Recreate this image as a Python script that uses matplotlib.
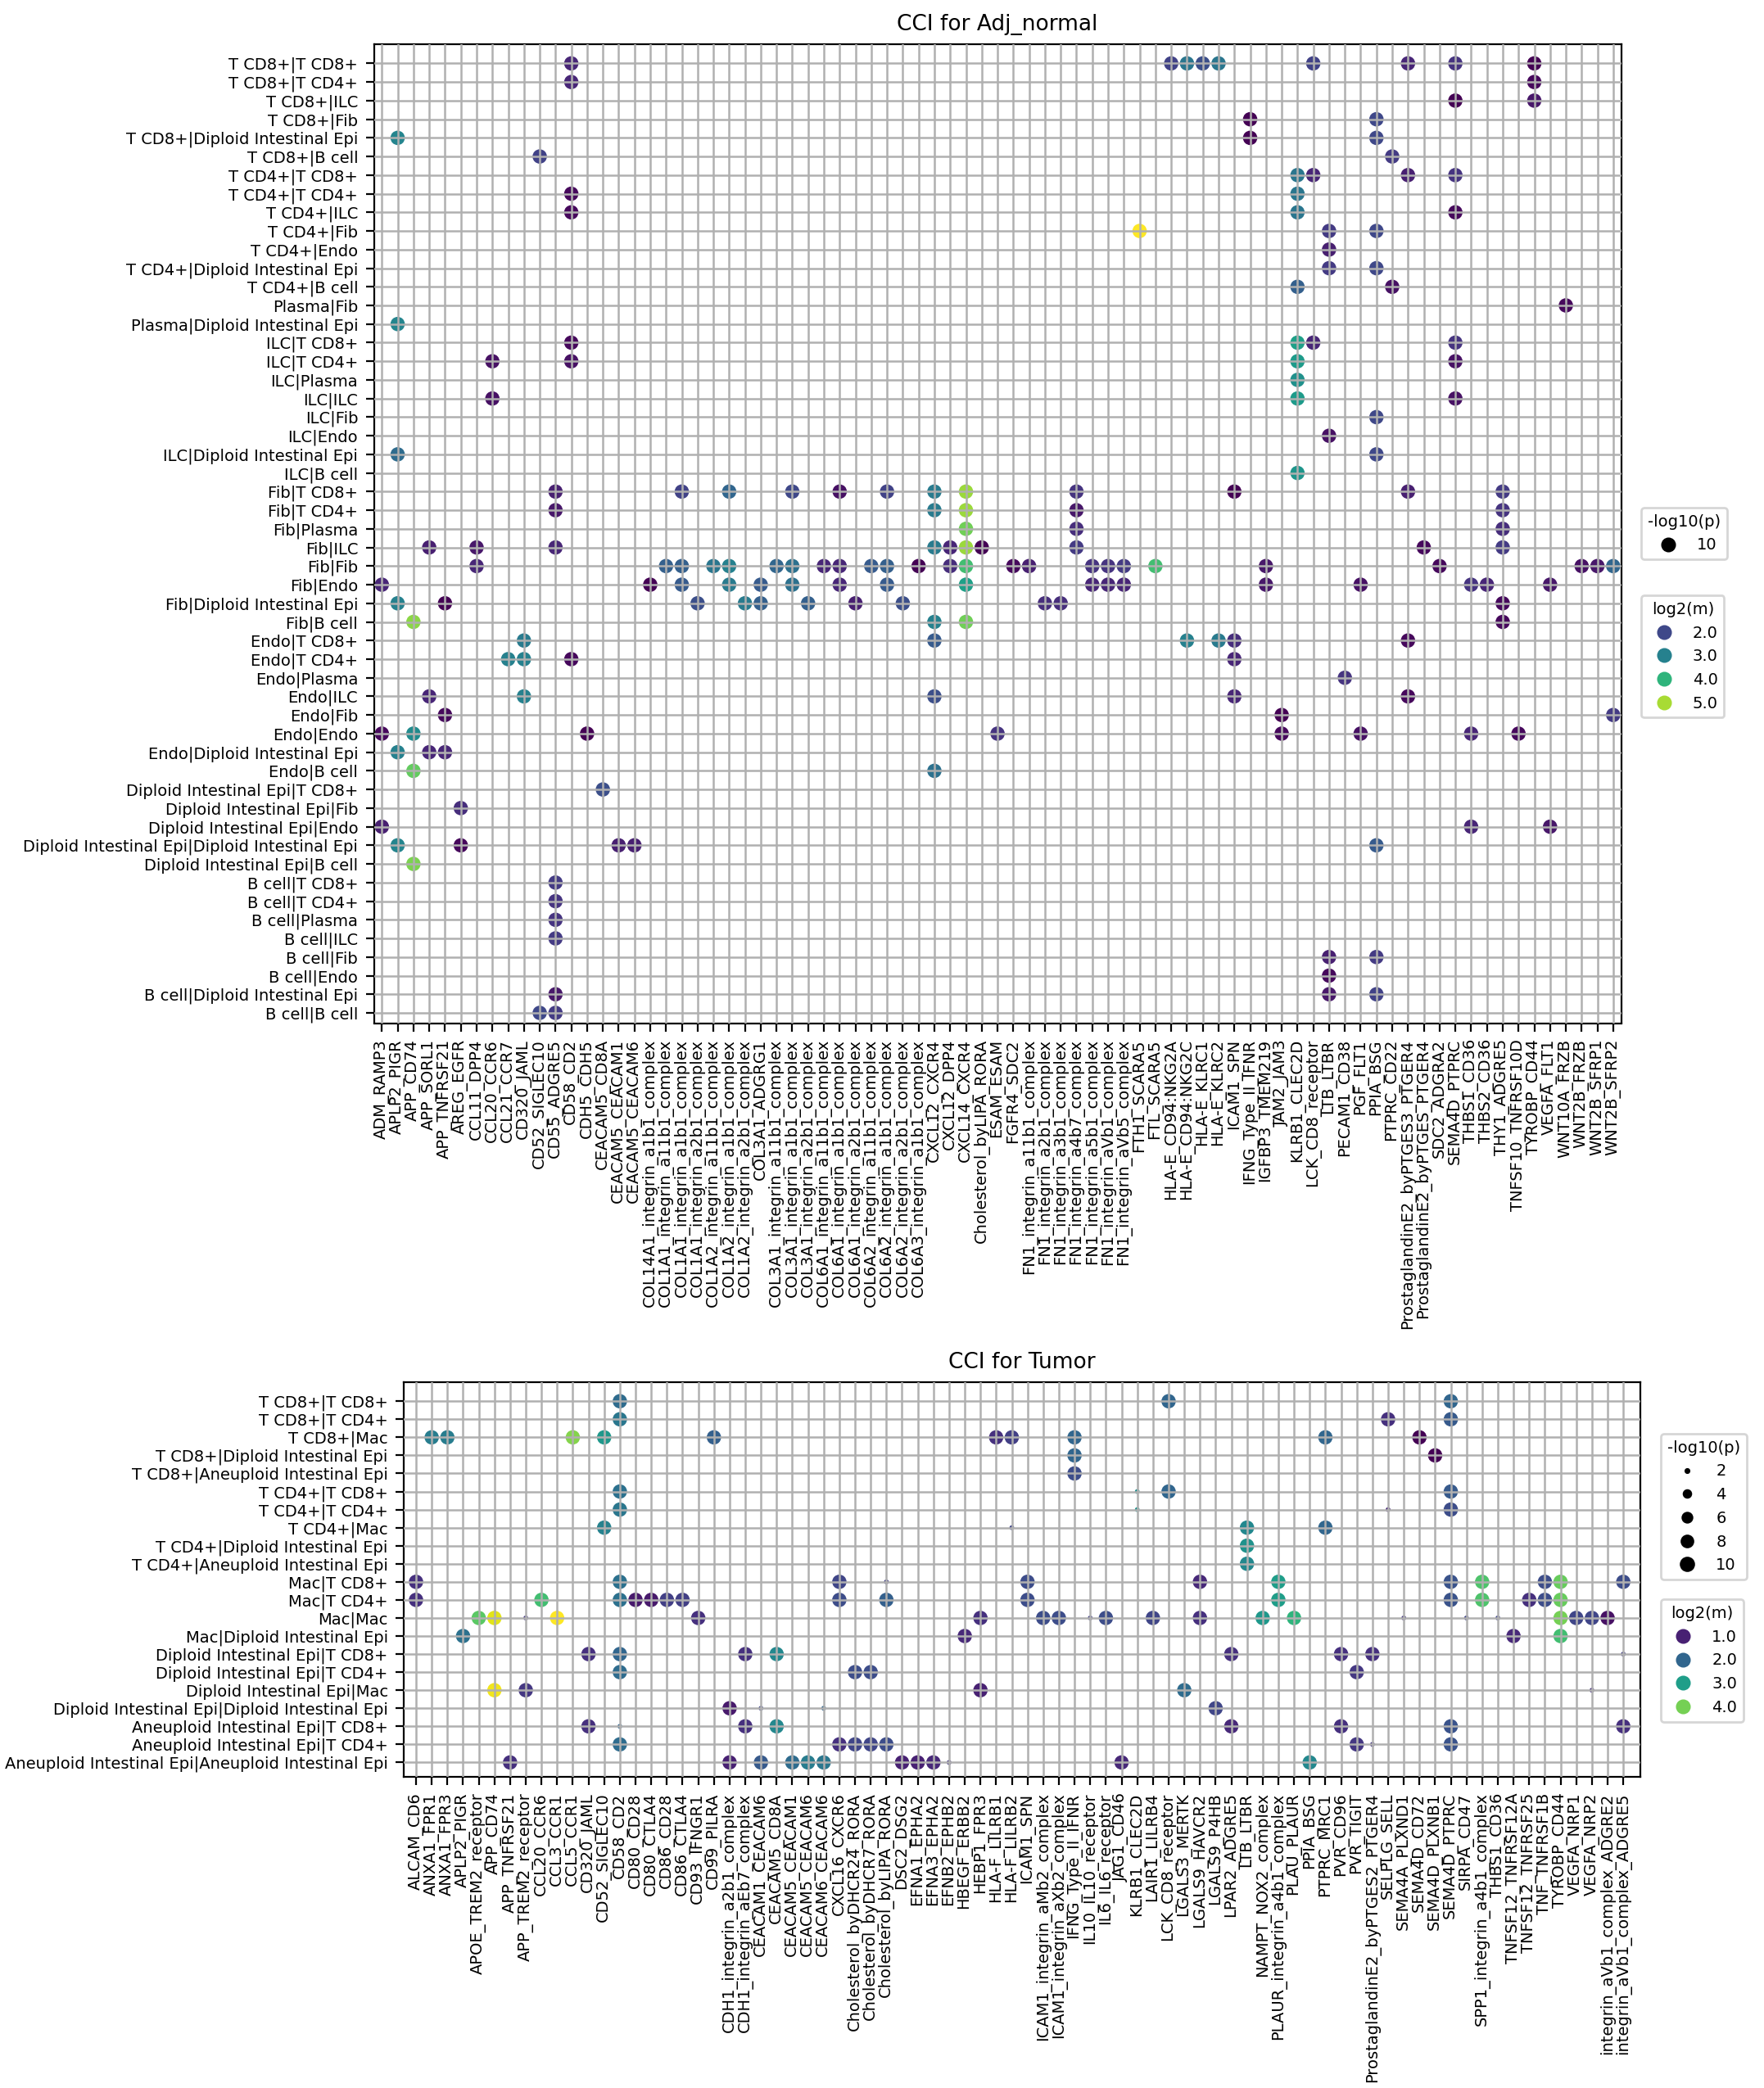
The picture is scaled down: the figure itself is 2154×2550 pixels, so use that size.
import numpy as np
import matplotlib
matplotlib.use("Agg")
import matplotlib.pyplot as plt
from matplotlib.lines import Line2D
from matplotlib.colors import Normalize

# ---------------- Adj_normal ----------------
top_xlabels = ['ADM_RAMP3', 'APLP2_PIGR', 'APP_CD74', 'APP_SORL1', 'APP_TNFRSF21', 'AREG_EGFR',
    'CCL11_DPP4', 'CCL20_CCR6', 'CCL21_CCR7', 'CD320_JAML', 'CD52_SIGLEC10', 'CD55_ADGRE5',
    'CD58_CD2', 'CDH5_CDH5', 'CEACAM5_CD8A', 'CEACAM5_CEACAM1', 'CEACAM5_CEACAM6',
    'COL14A1_integrin_a1b1_complex', 'COL1A1_integrin_a11b1_complex', 'COL1A1_integrin_a1b1_complex',
    'COL1A1_integrin_a2b1_complex', 'COL1A2_integrin_a11b1_complex', 'COL1A2_integrin_a1b1_complex',
    'COL1A2_integrin_a2b1_complex', 'COL3A1_ADGRG1', 'COL3A1_integrin_a11b1_complex',
    'COL3A1_integrin_a1b1_complex', 'COL3A1_integrin_a2b1_complex', 'COL6A1_integrin_a11b1_complex',
    'COL6A1_integrin_a1b1_complex', 'COL6A1_integrin_a2b1_complex', 'COL6A2_integrin_a11b1_complex',
    'COL6A2_integrin_a1b1_complex', 'COL6A2_integrin_a2b1_complex', 'COL6A3_integrin_a1b1_complex',
    'CXCL12_CXCR4', 'CXCL12_DPP4', 'CXCL14_CXCR4', 'Cholesterol_byLIPA_RORA', 'ESAM_ESAM',
    'FGFR4_SDC2', 'FN1_integrin_a11b1_complex', 'FN1_integrin_a2b1_complex', 'FN1_integrin_a3b1_complex',
    'FN1_integrin_a4b7_complex', 'FN1_integrin_a5b1_complex', 'FN1_integrin_aVb1_complex',
    'FN1_integrin_aVb5_complex', 'FTH1_SCARA5', 'FTL_SCARA5', 'HLA-E_CD94:NKG2A', 'HLA-E_CD94:NKG2C',
    'HLA-E_KLRC1', 'HLA-E_KLRC2', 'ICAM1_SPN', 'IFNG_Type_II_IFNR', 'IGFBP3_TMEM219', 'JAM2_JAM3',
    'KLRB1_CLEC2D', 'LCK_CD8_receptor', 'LTB_LTBR', 'PECAM1_CD38', 'PGF_FLT1', 'PPIA_BSG', 'PTPRC_CD22',
    'ProstaglandinE2_byPTGES3_PTGER4', 'ProstaglandinE2_byPTGES_PTGER4', 'SDC2_ADGRA2', 'SEMA4D_PTPRC',
    'THBS1_CD36', 'THBS2_CD36', 'THY1_ADGRE5', 'TNFSF10_TNFRSF10D', 'TYROBP_CD44', 'VEGFA_FLT1',
    'WNT10A_FRZB', 'WNT2B_FRZB', 'WNT2B_SFRP1', 'WNT2B_SFRP2']

top_ylabels = ['T CD8+|T CD8+', 'T CD8+|T CD4+', 'T CD8+|ILC', 'T CD8+|Fib', 'T CD8+|Diploid Intestinal Epi',
    'T CD8+|B cell', 'T CD4+|T CD8+', 'T CD4+|T CD4+', 'T CD4+|ILC', 'T CD4+|Fib', 'T CD4+|Endo',
    'T CD4+|Diploid Intestinal Epi', 'T CD4+|B cell', 'Plasma|Fib', 'Plasma|Diploid Intestinal Epi',
    'ILC|T CD8+', 'ILC|T CD4+', 'ILC|Plasma', 'ILC|ILC', 'ILC|Fib', 'ILC|Endo', 'ILC|Diploid Intestinal Epi',
    'ILC|B cell', 'Fib|T CD8+', 'Fib|T CD4+', 'Fib|Plasma', 'Fib|ILC', 'Fib|Fib', 'Fib|Endo',
    'Fib|Diploid Intestinal Epi', 'Fib|B cell', 'Endo|T CD8+', 'Endo|T CD4+', 'Endo|Plasma', 'Endo|ILC',
    'Endo|Fib', 'Endo|Endo', 'Endo|Diploid Intestinal Epi', 'Endo|B cell', 'Diploid Intestinal Epi|T CD8+',
    'Diploid Intestinal Epi|Fib', 'Diploid Intestinal Epi|Endo', 'Diploid Intestinal Epi|Diploid Intestinal Epi',
    'Diploid Intestinal Epi|B cell', 'B cell|T CD8+', 'B cell|T CD4+', 'B cell|Plasma', 'B cell|ILC',
    'B cell|Fib', 'B cell|Endo', 'B cell|Diploid Intestinal Epi', 'B cell|B cell']

# (row, column, log2(m)); all have -log10(p) = 10
top_dots = [
    (0, 12, 1.5), (0, 50, 1.9), (0, 51, 2.8), (0, 52, 2.1), (0, 53, 2.8), (0, 59, 1.9), (0, 65, 1.5), (0, 68, 1.7), (0, 73, 1.0),
    (1, 12, 1.5), (1, 73, 1.1),
    (2, 68, 1.0), (2, 73, 1.3),
    (3, 55, 1.0), (3, 63, 2.0),
    (4, 1, 3.1), (4, 55, 1.0), (4, 63, 2.0),
    (5, 10, 1.9), (5, 64, 1.8),
    (6, 58, 2.8), (6, 59, 1.5), (6, 65, 1.4), (6, 68, 1.7),
    (7, 12, 1.1), (7, 58, 2.8),
    (8, 12, 1.1), (8, 58, 2.8), (8, 68, 1.1),
    (9, 48, 5.6), (9, 60, 1.8), (9, 63, 2.0),
    (10, 60, 1.4),
    (11, 60, 1.8), (11, 63, 2.0),
    (12, 58, 2.4), (12, 64, 1.2),
    (13, 75, 1.1),
    (14, 1, 3.1),
    (15, 12, 1.1), (15, 58, 3.6), (15, 59, 1.5), (15, 68, 1.7),
    (16, 7, 1.2), (16, 12, 1.2), (16, 58, 3.5), (16, 68, 1.2),
    (17, 58, 3.3),
    (18, 7, 1.2), (18, 58, 3.5), (18, 68, 1.2),
    (19, 63, 2.0),
    (20, 60, 1.2),
    (21, 1, 2.6), (21, 63, 2.0),
    (22, 58, 3.4),
    (23, 11, 1.4), (23, 19, 1.9), (23, 22, 2.5), (23, 26, 2.0), (23, 29, 1.2), (23, 32, 1.9), (23, 35, 2.9),
    (23, 37, 4.9), (23, 44, 1.7), (23, 54, 1.0), (23, 65, 1.4), (23, 71, 1.8),
    (24, 11, 1.3), (24, 35, 2.9), (24, 37, 4.9), (24, 44, 1.3), (24, 71, 1.7),
    (25, 37, 4.6), (25, 44, 1.6), (25, 71, 1.6),
    (26, 3, 1.4), (26, 6, 1.3), (26, 11, 1.5), (26, 35, 2.9), (26, 36, 1.5), (26, 37, 4.9), (26, 38, 1.0),
    (26, 44, 1.8), (26, 66, 1.1), (26, 71, 1.8),
    (27, 6, 1.5), (27, 18, 2.4), (27, 19, 2.4), (27, 21, 2.8), (27, 22, 3.0), (27, 25, 2.5), (27, 26, 2.7),
    (27, 28, 1.5), (27, 29, 1.5), (27, 31, 2.3), (27, 32, 2.4), (27, 34, 1.0), (27, 36, 1.6), (27, 37, 4.2),
    (27, 40, 1.1), (27, 41, 1.4), (27, 45, 1.7), (27, 46, 1.7), (27, 47, 1.8), (27, 49, 4.2), (27, 56, 1.3),
    (27, 67, 1.1), (27, 76, 1.2), (27, 77, 1.3), (27, 78, 2.5),
    (28, 0, 1.5), (28, 17, 1.0), (28, 19, 2.3), (28, 22, 2.9), (28, 24, 2.3), (28, 26, 2.7), (28, 29, 1.5),
    (28, 32, 2.3), (28, 37, 3.6), (28, 45, 1.5), (28, 46, 1.5), (28, 47, 1.5), (28, 56, 1.3), (28, 62, 1.2),
    (28, 69, 1.7), (28, 70, 1.5), (28, 74, 1.3),
    (29, 1, 3.0), (29, 4, 1.0), (29, 20, 2.1), (29, 23, 2.9), (29, 24, 2.4), (29, 27, 2.4), (29, 30, 1.4),
    (29, 33, 2.1), (29, 42, 1.6), (29, 43, 1.6), (29, 71, 1.1),
    (30, 2, 4.8), (30, 35, 3.0), (30, 37, 4.6), (30, 71, 1.1),
    (31, 9, 2.9), (31, 35, 2.3), (31, 51, 3.0), (31, 53, 2.9), (31, 54, 1.6), (31, 65, 1.1),
    (32, 8, 3.0), (32, 9, 3.0), (32, 12, 1.1), (32, 54, 1.5),
    (33, 61, 1.7),
    (34, 3, 1.5), (34, 9, 3.0), (34, 35, 2.1), (34, 54, 1.5), (34, 65, 1.1),
    (35, 4, 1.1), (35, 57, 1.0), (35, 78, 1.8),
    (36, 0, 1.1), (36, 2, 3.2), (36, 13, 1.0), (36, 39, 1.7), (36, 57, 1.1), (36, 62, 1.2), (36, 69, 1.5), (36, 72, 1.1),
    (37, 1, 3.0), (37, 3, 1.5), (37, 4, 1.5),
    (38, 2, 4.5), (38, 35, 2.7),
    (39, 14, 2.1),
    (40, 5, 1.6),
    (41, 0, 1.4), (41, 69, 1.5), (41, 74, 1.3),
    (42, 1, 3.1), (42, 5, 1.1), (42, 15, 1.4), (42, 16, 1.4), (42, 63, 2.3),
    (43, 2, 4.7),
    (44, 11, 1.8), (45, 11, 1.7), (46, 11, 1.7), (47, 11, 1.8),
    (48, 60, 1.4), (48, 63, 1.8),
    (49, 60, 1.1),
    (50, 11, 1.3), (50, 60, 1.3), (50, 63, 1.9),
    (51, 10, 2.0), (51, 11, 1.8),
]

# ---------------- Tumor ----------------
bot_xlabels = ['ALCAM_CD6', 'ANXA1_FPR1', 'ANXA1_FPR3', 'APLP2_PIGR', 'APOE_TREM2_receptor', 'APP_CD74',
    'APP_TNFRSF21', 'APP_TREM2_receptor', 'CCL20_CCR6', 'CCL3_CCR1', 'CCL5_CCR1', 'CD320_JAML',
    'CD52_SIGLEC10', 'CD58_CD2', 'CD80_CD28', 'CD80_CTLA4', 'CD86_CD28', 'CD86_CTLA4', 'CD93_IFNGR1',
    'CD99_PILRA', 'CDH1_integrin_a2b1_complex', 'CDH1_integrin_aEb7_complex', 'CEACAM1_CEACAM6',
    'CEACAM5_CD8A', 'CEACAM5_CEACAM1', 'CEACAM5_CEACAM6', 'CEACAM6_CEACAM6', 'CXCL16_CXCR6',
    'Cholesterol_byDHCR24_RORA', 'Cholesterol_byDHCR7_RORA', 'Cholesterol_byLIPA_RORA', 'DSC2_DSG2',
    'EFNA1_EPHA2', 'EFNA3_EPHA2', 'EFNB2_EPHB2', 'HBEGF_ERBB2', 'HEBP1_FPR3', 'HLA-F_LILRB1',
    'HLA-F_LILRB2', 'ICAM1_SPN', 'ICAM1_integrin_aMb2_complex', 'ICAM1_integrin_aXb2_complex',
    'IFNG_Type_II_IFNR', 'IL10_IL10_receptor', 'IL6_IL6_receptor', 'JAG1_CD46', 'KLRB1_CLEC2D',
    'LAIR1_LILRB4', 'LCK_CD8_receptor', 'LGALS3_MERTK', 'LGALS9_HAVCR2', 'LGALS9_P4HB', 'LPAR2_ADGRE5',
    'LTB_LTBR', 'NAMPT_NOX2_complex', 'PLAUR_integrin_a4b1_complex', 'PLAU_PLAUR', 'PPIA_BSG',
    'PTPRC_MRC1', 'PVR_CD96', 'PVR_TIGIT', 'ProstaglandinE2_byPTGES2_PTGER4', 'SELPLG_SELL',
    'SEMA4A_PLXND1', 'SEMA4D_CD72', 'SEMA4D_PLXNB1', 'SEMA4D_PTPRC', 'SIRPA_CD47',
    'SPP1_integrin_a4b1_complex', 'THBS1_CD36', 'TNFSF12_TNFRSF12A', 'TNFSF12_TNFRSF25',
    'TNF_TNFRSF1B', 'TYROBP_CD44', 'VEGFA_NRP1', 'VEGFA_NRP2', 'integrin_aVb1_complex_ADGRE2',
    'integrin_aVb1_complex_ADGRE5']

bot_ylabels = ['T CD8+|T CD8+', 'T CD8+|T CD4+', 'T CD8+|Mac', 'T CD8+|Diploid Intestinal Epi',
    'T CD8+|Aneuploid Intestinal Epi', 'T CD4+|T CD8+', 'T CD4+|T CD4+', 'T CD4+|Mac',
    'T CD4+|Diploid Intestinal Epi', 'T CD4+|Aneuploid Intestinal Epi', 'Mac|T CD8+', 'Mac|T CD4+',
    'Mac|Mac', 'Mac|Diploid Intestinal Epi', 'Diploid Intestinal Epi|T CD8+', 'Diploid Intestinal Epi|T CD4+',
    'Diploid Intestinal Epi|Mac', 'Diploid Intestinal Epi|Diploid Intestinal Epi',
    'Aneuploid Intestinal Epi|T CD8+', 'Aneuploid Intestinal Epi|T CD4+',
    'Aneuploid Intestinal Epi|Aneuploid Intestinal Epi']

# (row, column, log2(m), -log10(p))
bot_dots = [
    (0, 13, 2.1, 10), (0, 48, 2.0, 10), (0, 66, 2.0, 10),
    (1, 13, 2.3, 10), (1, 62, 1.2, 10), (1, 66, 1.8, 10),
    (2, 1, 2.4, 10), (2, 2, 2.4, 10), (2, 10, 4.1, 10), (2, 12, 2.9, 10), (2, 19, 1.9, 10), (2, 37, 1.2, 10),
    (2, 38, 1.4, 10), (2, 42, 2.0, 10), (2, 58, 2.0, 10), (2, 64, 0.6, 10),
    (3, 42, 2.0, 10), (3, 65, 0.6, 10),
    (4, 42, 1.6, 10),
    (5, 13, 2.2, 10), (5, 46, 2.7, 2.3), (5, 48, 2.0, 10), (5, 66, 1.8, 10),
    (6, 13, 2.3, 10), (6, 46, 2.8, 2.3), (6, 62, 1.1, 2.3), (6, 66, 1.6, 10),
    (7, 12, 2.5, 10), (7, 38, 1.5, 2.3), (7, 53, 2.6, 10), (7, 58, 2.0, 10),
    (8, 53, 2.8, 10),
    (9, 53, 2.6, 10),
    (10, 0, 1.2, 10), (10, 13, 2.2, 10), (10, 27, 1.5, 10), (10, 30, 1.4, 2.3), (10, 39, 1.6, 10), (10, 50, 1.1, 10),
    (10, 55, 3.0, 10), (10, 66, 1.7, 10), (10, 68, 3.7, 10), (10, 72, 1.6, 10), (10, 73, 3.9, 10), (10, 77, 1.6, 10),
    (11, 0, 1.2, 10), (11, 8, 3.6, 10), (11, 13, 2.2, 10), (11, 14, 0.9, 10), (11, 15, 0.9, 10), (11, 16, 1.4, 10),
    (11, 17, 1.4, 10), (11, 27, 1.6, 10), (11, 30, 1.9, 10), (11, 39, 1.6, 10), (11, 55, 3.0, 10), (11, 66, 1.7, 10),
    (11, 68, 3.7, 10), (11, 71, 1.2, 10), (11, 72, 1.6, 10), (11, 73, 3.9, 10),
    (12, 4, 3.8, 10), (12, 5, 4.7, 10), (12, 7, 1.3, 2.3), (12, 9, 4.9, 10), (12, 18, 1.2, 10), (12, 36, 1.2, 10),
    (12, 40, 1.6, 10), (12, 41, 1.6, 10), (12, 43, 1.4, 2.3), (12, 44, 1.6, 10), (12, 47, 1.5, 10), (12, 50, 1.2, 10),
    (12, 54, 2.9, 10), (12, 56, 3.4, 10), (12, 63, 1.3, 2.3), (12, 67, 1.5, 2.3), (12, 69, 1.5, 2.3), (12, 73, 4.0, 10),
    (12, 74, 1.5, 10), (12, 75, 1.5, 10), (12, 76, 0.8, 10),
    (13, 3, 2.2, 10), (13, 35, 1.1, 10), (13, 70, 1.1, 10), (13, 73, 3.6, 10),
    (14, 11, 1.2, 10), (14, 13, 2.0, 10), (14, 21, 1.2, 10), (14, 23, 2.6, 10), (14, 52, 1.2, 10), (14, 59, 1.2, 10),
    (14, 61, 1.2, 10), (14, 77, 1.4, 2.3),
    (15, 13, 2.1, 10), (15, 28, 1.6, 10), (15, 29, 1.6, 10), (15, 60, 1.3, 10),
    (16, 5, 4.8, 10), (16, 7, 1.3, 10), (16, 36, 1.0, 10), (16, 49, 2.1, 10), (16, 75, 1.2, 2.3),
    (17, 20, 0.9, 10), (17, 22, 1.5, 2.3), (17, 26, 2.0, 2.3), (17, 51, 1.5, 10),
    (18, 11, 1.2, 10), (18, 13, 2.0, 2.3), (18, 21, 1.2, 10), (18, 23, 2.6, 10), (18, 52, 1.1, 10), (18, 59, 1.2, 10),
    (18, 66, 1.7, 10), (18, 77, 1.2, 10),
    (19, 13, 2.1, 10), (19, 27, 1.2, 10), (19, 28, 1.5, 10), (19, 29, 1.5, 10), (19, 30, 1.6, 10), (19, 60, 1.3, 10),
    (19, 61, 1.3, 2.3), (19, 66, 1.7, 10),
    (20, 6, 1.2, 10), (20, 20, 1.0, 10), (20, 22, 1.8, 10), (20, 24, 2.1, 10), (20, 25, 2.4, 10), (20, 26, 2.3, 10),
    (20, 31, 1.0, 10), (20, 32, 1.0, 10), (20, 33, 1.1, 10), (20, 34, 1.3, 2.3), (20, 45, 1.1, 10), (20, 57, 2.6, 10),
]

cmap = plt.get_cmap('viridis')
fs = 7


def psize(p):
    # marker area from -log10(p)
    return 3 + (np.asarray(p) - 2) / 8.0 * 37


def draw(ax, xlabels, ylabels, rows, cols, vals, sizes, norm, title, ylim, xlim):
    ax.scatter(cols, rows, c=vals, cmap=cmap, norm=norm, s=sizes, linewidths=0, zorder=1)
    ax.set_xticks(range(len(xlabels)))
    ax.set_xticklabels(xlabels, rotation=90, fontsize=fs)
    ax.set_yticks(range(len(ylabels)))
    ax.set_yticklabels(ylabels, fontsize=fs)
    ax.set_xlim(*xlim)
    ax.set_ylim(*ylim)
    ax.grid(True, color='#b0b0b0', linewidth=0.9)
    ax.set_axisbelow(False)
    for gl in ax.get_xgridlines() + ax.get_ygridlines():
        gl.set_zorder(2)
    ax.set_title(title, fontsize=9.5)


fig = plt.figure(figsize=(10.77, 12.75), dpi=200)

# top chart
tr, tc, tm = zip(*top_dots)
top_norm = Normalize(min(tm), max(tm))
ax1 = fig.add_axes([0.212, 0.510, 0.707, 0.469])
draw(ax1, top_xlabels, top_ylabels, tr, tc, tm, [40] * len(tm), top_norm, 'CCI for Adj_normal',
     (len(top_ylabels) - 0.45, -1.05), (-0.5, len(top_xlabels) - 0.5))

h1 = [Line2D([], [], marker='o', ls='', color='black', markersize=5.5, label='10')]
leg1 = ax1.legend(handles=h1, title='-log10(p)', loc='center left', bbox_to_anchor=(1.01, 0.50),
                  fontsize=fs, title_fontsize=fs, frameon=True)
ax1.add_artist(leg1)
h2 = [Line2D([], [], marker='o', ls='', color=cmap(top_norm(v)), markersize=5.5, label='%.1f' % v)
      for v in [2.0, 3.0, 4.0, 5.0]]
ax1.legend(handles=h2, title='log2(m)', loc='upper left', bbox_to_anchor=(1.01, 0.445),
           fontsize=fs, title_fontsize=fs, frameon=True)

# bottom chart
br, bc, bm, bp = zip(*bot_dots)
bot_norm = Normalize(min(bm), max(bm))
ax2 = fig.add_axes([0.229, 0.149, 0.701, 0.189])
draw(ax2, bot_xlabels, bot_ylabels, br, bc, bm, psize(bp), bot_norm, 'CCI for Tumor',
     (len(bot_ylabels) - 0.2, -1.05), (-0.77, len(bot_xlabels) + 0.1))

h3 = [Line2D([], [], marker='o', ls='', color='black', markersize=np.sqrt(psize(v)) * 0.9, label=str(v))
      for v in [2, 4, 6, 8, 10]]
leg3 = ax2.legend(handles=h3, title='-log10(p)', loc='upper left', bbox_to_anchor=(1.01, 0.89),
                  fontsize=fs, title_fontsize=fs, frameon=True)
ax2.add_artist(leg3)
h4 = [Line2D([], [], marker='o', ls='', color=cmap(bot_norm(v)), markersize=5.5, label='%.1f' % v)
      for v in [1.0, 2.0, 3.0, 4.0]]
ax2.legend(handles=h4, title='log2(m)', loc='upper left', bbox_to_anchor=(1.01, 0.47),
           fontsize=fs, title_fontsize=fs, frameon=True)

fig.savefig('out.png', dpi=200)
